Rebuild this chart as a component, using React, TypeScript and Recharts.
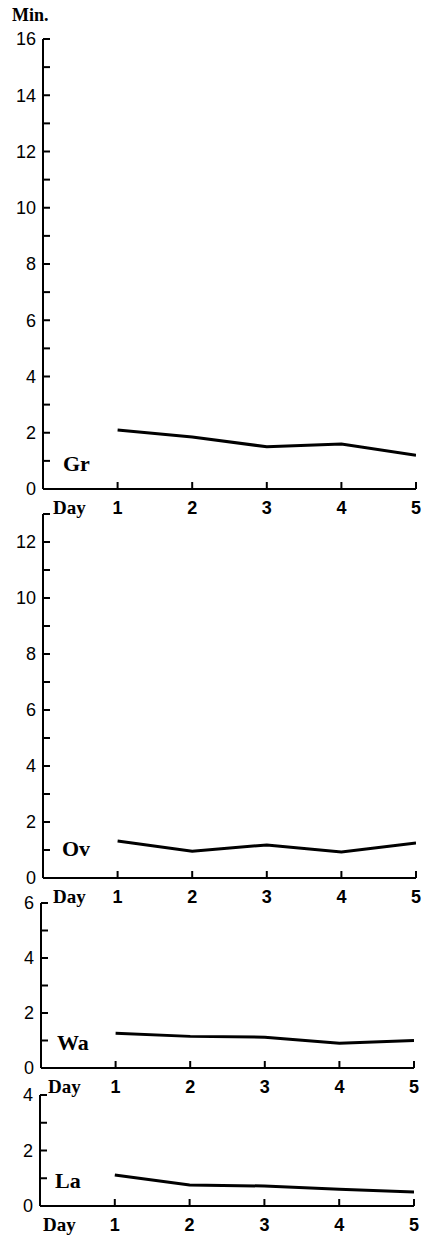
import React from "react";
import { LineChart, Line, XAxis, YAxis } from "recharts";

const days = [1, 2, 3, 4, 5];
const grValues = [2.1, 1.85, 1.5, 1.6, 1.2];
const ovValues = [1.32, 0.96, 1.18, 0.93, 1.25];
const waValues = [1.26, 1.15, 1.12, 0.9, 1.0];
const laValues = [1.12, 0.76, 0.72, 0.6, 0.5];

const grTicks = [0, 1, 2, 3, 4, 5, 6, 7, 8, 9, 10, 11, 12, 13, 14, 15, 16];
const ovTicks = [0, 1, 2, 3, 4, 5, 6, 7, 8, 9, 10, 11, 12, 13];
const waTicks = [0, 1, 2, 3, 4, 5, 6];
const laTicks = [0, 1, 2, 3, 4];

const serif = "'Liberation Serif', 'DejaVu Serif', serif";
const sans = "'Liberation Sans', Arial, sans-serif";

type PanelProps = {
  name: string;
  values: number[];
  yTicks: number[];
  plotTop: number;
  plotBottom: number;
  left: number;
  right: number;
  nameX: number;
  nameY: number;
  dayX: number;
};

function Panel(p: PanelProps) {
  const data = days.map((d, i) => ({ day: d, value: p.values[i] }));
  const top = p.plotTop - 10;
  const height = p.plotBottom - p.plotTop + 10 + 30;
  const yMax = p.yTicks[p.yTicks.length - 1];
  return (
    <>
      <div style={{ position: "absolute", left: 0, top }}>
        <LineChart
          width={429}
          height={height}
          data={data}
          margin={{ top: 10, right: 429 - p.right, left: 0, bottom: 0 }}
        >
          <XAxis
            type="number"
            dataKey="day"
            domain={[0, 5]}
            ticks={days}
            allowDataOverflow
            height={30}
            tickSize={-7}
            tickMargin={19}
            axisLine={{ stroke: "#000", strokeWidth: 2 }}
            tickLine={{ stroke: "#000", strokeWidth: 2 }}
            tick={{ fill: "#000", fontFamily: sans, fontSize: 18, fontWeight: "bold" }}
          />
          <YAxis
            type="number"
            domain={[0, yMax]}
            ticks={p.yTicks}
            interval={0}
            width={p.left}
            tickSize={-7}
            tickMargin={14}
            axisLine={{ stroke: "#000", strokeWidth: 2 }}
            tickLine={{ stroke: "#000", strokeWidth: 2 }}
            tickFormatter={(v: number) => (v % 2 === 0 ? String(v) : "")}
            tick={{ fill: "#000", fontFamily: sans, fontSize: 18 }}
          />
          <Line
            type="linear"
            dataKey="value"
            stroke="#000"
            strokeWidth={3}
            dot={false}
            isAnimationActive={false}
          />
        </LineChart>
      </div>
      <div
        style={{
          position: "absolute",
          left: p.nameX,
          top: p.nameY,
          fontFamily: serif,
          fontSize: 22,
          fontWeight: "bold",
          lineHeight: 1,
        }}
      >
        {p.name}
      </div>
      <div
        style={{
          position: "absolute",
          left: p.dayX,
          top: p.plotBottom + 9,
          fontFamily: serif,
          fontSize: 19,
          fontWeight: "bold",
          lineHeight: 1,
        }}
      >
        Day
      </div>
    </>
  );
}

export default function App() {
  return (
    <div
      style={{
        position: "absolute",
        left: 0,
        top: 0,
        width: 429,
        height: 1235,
        background: "#fff",
        overflow: "hidden",
      }}
    >
      <div
        style={{
          position: "absolute",
          left: 12,
          top: 6,
          fontFamily: serif,
          fontSize: 18,
          fontWeight: "bold",
          lineHeight: 1,
        }}
      >
        Min.
      </div>
      <Panel name="Gr" values={grValues} yTicks={grTicks} plotTop={39} plotBottom={489} left={43} right={416} nameX={63} nameY={453} dayX={53} />
      <Panel name="Ov" values={ovValues} yTicks={ovTicks} plotTop={514} plotBottom={878} left={43} right={416} nameX={62} nameY={838} dayX={53} />
      <Panel name="Wa" values={waValues} yTicks={waTicks} plotTop={903} plotBottom={1068} left={41} right={414} nameX={57} nameY={1032} dayX={48} />
      <Panel name="La" values={laValues} yTicks={laTicks} plotTop={1095} plotBottom={1206} left={40} right={414} nameX={55} nameY={1170} dayX={43} />
    </div>
  );
}
